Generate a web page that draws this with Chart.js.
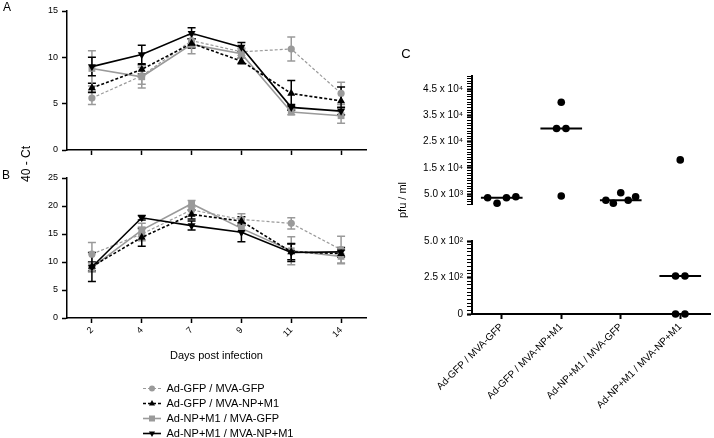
<!DOCTYPE html>
<html><head><meta charset="utf-8">
<script src="https://cdn.jsdelivr.net/npm/chart.js@4.4.1/dist/chart.umd.min.js"></script>
<style>
html,body{margin:0;padding:0;background:#fff;width:714px;height:438px;overflow:hidden}
#wrap{position:relative;width:714px;height:438px}
canvas{position:absolute;left:0;top:0}
</style></head><body><div id="wrap">
<canvas id="cA" width="714" height="438"></canvas>
<canvas id="cB" width="714" height="438"></canvas>
<canvas id="cCtop" width="714" height="438"></canvas>
<canvas id="cCbot" width="714" height="438"></canvas>
<canvas id="cLeg" width="230" height="80" style="left:139px;top:379px"></canvas>
</div>
<script>
// ---------------- data ----------------
const days = ['2','4','7','9','11','14'];
const groupNames = ['Ad-GFP / MVA-GFP','Ad-GFP / MVA-NP+M1','Ad-NP+M1 / MVA-GFP','Ad-NP+M1 / MVA-NP+M1'];

// Panel A: 40 - Ct (means and error)
const a_gfp_gfp     = [5.6, 8.0, 11.8, 10.6, 10.9, 6.1];
const a_gfp_npm1    = [6.7, 8.7, 11.5, 9.6, 6.1, 5.3];
const a_npm1_gfp    = [8.8, 7.9, 11.4, 10.4, 4.1, 3.7];
const a_npm1_npm1   = [9.0, 10.3, 12.6, 11.1, 4.6, 4.2];
const a_gfp_gfp_err   = [0.7, 0.9, 0.6, 0.4, 1.3, 1.2];
const a_gfp_npm1_err  = [0.5, 0.5, 0.5, 0.3, 1.4, 1.5];
const a_npm1_gfp_err  = [1.9, 1.2, 1.0, 0.5, 0.3, 0.8];
const a_npm1_npm1_err = [1.0, 1.0, 0.6, 0.5, 0.3, 0.4];

// Panel B: 40 - Ct (means and error)
const b_gfp_gfp     = [11.4, 15.0, 19.3, 17.6, 16.9, 12.2];
const b_gfp_npm1    = [9.2, 14.4, 18.5, 17.3, 11.8, 11.5];
const b_npm1_gfp    = [9.0, 15.7, 20.4, 16.0, 12.0, 11.0];
const b_npm1_npm1   = [9.1, 17.9, 16.5, 15.3, 11.7, 11.8];
const b_gfp_gfp_err   = [2.1, 1.2, 0.8, 1.0, 1.0, 2.4];
const b_gfp_npm1_err  = [0.8, 1.6, 0.8, 0.8, 1.4, 0.6];
const b_npm1_gfp_err  = [0.8, 1.2, 0.6, 0.6, 2.5, 1.3];
const b_npm1_npm1_err = [2.6, 0.4, 0.8, 1.7, 1.6, 0.8];

// Panel C: pfu / ml per animal
const titer_gfp_gfp   = [3590, 1460, 3590, 3970];
const titer_gfp_npm1  = [40000, 30000, 30000, 4240];
const titer_npm1_gfp  = [2600, 1460, 5500, 2600, 3970];
const titer_npm1_npm1 = [18000, 260, 260, 0, 0];

// tick values
const yTicksA = [0, 5, 10, 15];
const yTicksB = [0, 5, 10, 15, 20, 25];
const cTopRange = [1000, 50000];
const cTopMajor = [5000, 15000, 25000, 35000, 45000];
const cBotRange = [0, 500];
const cBotMajor = [0, 250, 500];

// ---------------- styles ----------------
const FONT = "'Liberation Sans', Arial, Helvetica, sans-serif";
Chart.defaults.font.family = FONT;
Chart.defaults.color = '#000';
const GRAY = '#9a9a9a';
const styles = [
  {color: GRAY,   dash: [3, 2], width: 1.2, point: 'circle',   radius: 3.6, rot: 0,   order: 4},
  {color: '#000', dash: [3, 2], width: 1.6, point: 'triangle', radius: 4.6, rot: 0,   order: 2},
  {color: GRAY,   dash: [],     width: 1.6, point: 'rect',     radius: 4.8, rot: 0,   order: 3},
  {color: '#000', dash: [],     width: 1.6, point: 'triangle', radius: 4.6, rot: 180, order: 1}
];

const seriesA = [a_gfp_gfp, a_gfp_npm1, a_npm1_gfp, a_npm1_npm1];
const errA = [a_gfp_gfp_err, a_gfp_npm1_err, a_npm1_gfp_err, a_npm1_npm1_err];
const seriesB = [b_gfp_gfp, b_gfp_npm1, b_npm1_gfp, b_npm1_npm1];
const errB = [b_gfp_gfp_err, b_gfp_npm1_err, b_npm1_gfp_err, b_npm1_npm1_err];
const titers = [titer_gfp_gfp, titer_gfp_npm1, titer_npm1_gfp, titer_npm1_npm1];

// ---------------- plugins ----------------
const errorBars = {
  id: 'errorBars',
  beforeDatasetsDraw(chart) {
    const ctx = chart.ctx, ys = chart.scales.y;
    chart.data.datasets.forEach((ds, i) => {
      const meta = chart.getDatasetMeta(i);
      const errs = chart.options.plugins.errorBars.errors[i];
      ctx.save();
      ctx.strokeStyle = ds.borderColor; ctx.lineWidth = 1.5; ctx.setLineDash([]);
      meta.data.forEach((pt, j) => {
        const v = ds.data[j], e = errs[j];
        const yt = ys.getPixelForValue(v + e), yb = ys.getPixelForValue(v - e);
        ctx.beginPath();
        ctx.moveTo(pt.x, yt); ctx.lineTo(pt.x, yb);
        ctx.moveTo(pt.x - 4, yt); ctx.lineTo(pt.x + 4, yt);
        ctx.moveTo(pt.x - 4, yb); ctx.lineTo(pt.x + 4, yb);
        ctx.stroke();
      });
      ctx.restore();
    });
  }
};

const labelsPlugin = {
  id: 'panelTexts',
  afterDraw(chart) {
    const items = chart.options.plugins.panelTexts.items || [];
    const ctx = chart.ctx;
    items.forEach(t => {
      ctx.save();
      ctx.font = t.size + 'px ' + FONT;
      ctx.fillStyle = '#000';
      ctx.textAlign = 'center'; ctx.textBaseline = 'middle';
      ctx.translate(t.x, t.y); ctx.rotate(t.rot || 0);
      ctx.fillText(t.text, 0, 0);
      ctx.restore();
    });
  }
};

function lineDatasets(series) {
  return series.map((d, i) => ({
    label: groupNames[i], data: d,
    borderColor: styles[i].color, backgroundColor: styles[i].color,
    borderWidth: styles[i].width, borderDash: styles[i].dash,
    pointStyle: styles[i].point, pointRadius: styles[i].radius, pointRotation: styles[i].rot,
    pointBorderWidth: 0, pointBackgroundColor: styles[i].color,
    tension: 0, clip: false, order: styles[i].order
  }));
}

function yAxis(ticksArr, w) {
  return {
    min: ticksArr[0], max: ticksArr[ticksArr.length - 1], position: 'left',
    ticks: {stepSize: ticksArr[1] - ticksArr[0], font: {size: 9}, color: '#000', padding: 4},
    grid: {drawOnChartArea: false, drawTicks: true, tickLength: 5, tickWidth: 1.5, tickColor: '#000'},
    border: {display: true, color: '#000', width: 1.5},
    afterFit(s) { s.width = w; }
  };
}

// ---------------- Panel A ----------------
new Chart(document.getElementById('cA'), {
  type: 'line',
  data: {labels: days, datasets: lineDatasets(seriesA)},
  options: {
    responsive: false, animation: false, events: [],
    layout: {padding: {left: 27, top: 11, right: 348, bottom: 278}},
    scales: {
      x: {
        offset: true,
        ticks: {color: 'rgba(0,0,0,0)', font: {size: 9}},
        grid: {offset: false, drawOnChartArea: false, tickLength: 5, tickWidth: 1.5, tickColor: '#000'},
        border: {display: true, color: '#000', width: 1.5},
        afterFit(s) { s.height = 10; }
      },
      y: yAxis(yTicksA, 40)
    },
    plugins: {
      legend: {display: false}, tooltip: {enabled: false},
      errorBars: {errors: errA},
      panelTexts: {items: [
        {text: 'A', x: 7, y: 8, size: 12},
        {text: 'B', x: 6, y: 176, size: 12},
        {text: 'C', x: 406, y: 54, size: 13},
        {text: '40 - Ct', x: 27, y: 164, size: 12, rot: -Math.PI / 2},
        {text: 'pfu / ml', x: 403, y: 200, size: 11, rot: -Math.PI / 2}
      ]}
    }
  },
  plugins: [errorBars, labelsPlugin]
});

// ---------------- Panel B ----------------
new Chart(document.getElementById('cB'), {
  type: 'line',
  data: {labels: days, datasets: lineDatasets(seriesB)},
  options: {
    responsive: false, animation: false, events: [],
    layout: {padding: {left: 27, top: 178, right: 348, bottom: 75}},
    scales: {
      x: {
        offset: true,
        ticks: {color: '#000', font: {size: 9}, minRotation: 45, maxRotation: 45, padding: 2, autoSkip: false},
        grid: {offset: false, drawOnChartArea: false, tickLength: 5, tickWidth: 1.5, tickColor: '#000'},
        border: {display: true, color: '#000', width: 1.5},
        title: {display: true, text: 'Days post infection', font: {size: 11}, color: '#000', padding: 0},
        afterFit(s) { s.height = 45; }
      },
      y: yAxis(yTicksB, 40)
    },
    plugins: {
      legend: {display: false}, tooltip: {enabled: false},
      errorBars: {errors: errB},
      panelTexts: {items: []}
    }
  },
  plugins: [errorBars, labelsPlugin]
});

// ---------------- Panel C ----------------
const SUP = ['⁰','¹','²','³','⁴','⁵','⁶','⁷','⁸','⁹'];
function fmtSci(v) {
  if (v === 0) return '0';
  const e = Math.floor(Math.log10(v));
  return (v / Math.pow(10, e)).toFixed(1) + ' x 10' + SUP[e];
}
const JIT_STEP = 0.158, JIT_MAX = 0.25, MED_HALF = 0.35;
function swarmOffsets(values) {
  const tol = v => v > cBotRange[1] ? 3000 : 40;
  const idx = values.map((v, i) => i).sort((a, b) => values[a] - values[b]);
  const clusters = []; let cur = [idx[0]];
  for (let k = 1; k < idx.length; k++) {
    const a = values[idx[k - 1]], b = values[idx[k]];
    const same = (a > cBotRange[1]) === (b > cBotRange[1]) && (b - a) <= tol(b);
    if (same) cur.push(idx[k]); else { clusters.push(cur); cur = [idx[k]]; }
  }
  clusters.push(cur);
  const off = new Array(values.length).fill(0);
  clusters.forEach(c => {
    c.sort((a, b) => a - b);
    const n = c.length;
    const s = n > 1 ? Math.min(JIT_STEP, JIT_MAX * 2 / (n - 1)) : 0;
    c.forEach((i, k) => { off[i] = (k - (n - 1) / 2) * s; });
  });
  return off;
}
function median(arr) {
  const s = [...arr].sort((a, b) => a - b), n = s.length;
  return n % 2 ? s[(n - 1) / 2] : (s[n / 2 - 1] + s[n / 2]) / 2;
}
function cDatasets(inSegment) {
  const pts = [], meds = [];
  titers.forEach((vals, g) => {
    const off = swarmOffsets(vals);
    vals.forEach((v, i) => { if (inSegment(v)) pts.push({x: g + off[i], y: v}); });
    const m = median(vals);
    if (inSegment(m)) meds.push({
      data: [{x: g - MED_HALF, y: m}, {x: g + MED_HALF, y: m}],
      showLine: true, borderColor: '#000', borderWidth: 2, pointRadius: 0, clip: false
    });
  });
  return [{data: pts, pointRadius: 3.8, pointBackgroundColor: '#000', pointBorderWidth: 0, backgroundColor: '#000', clip: false}, ...meds];
}
function cYAxis(range, step, major, w) {
  return {
    min: range[0], max: range[1], position: 'left',
    ticks: {stepSize: step, maxTicksLimit: 200, autoSkip: false, font: {size: 10}, color: '#000', padding: 4,
      callback: v => major.includes(v) ? fmtSci(v) : ''},
    grid: {drawOnChartArea: false, tickLength: 5, tickColor: '#000',
      tickWidth: c => (c.tick && major.includes(c.tick.value)) ? 2.2 : 1},
    border: {display: true, color: '#000', width: 2},
    afterFit(s) { s.width = w; }
  };
}
const cX = (display) => ({
  type: 'linear', min: -0.5, max: groupNames.length - 0.5, display,
  afterBuildTicks(s) { s.ticks = groupNames.map((n, i) => ({value: i})); },
  ticks: {autoSkip: false, minRotation: 45, maxRotation: 45, font: {size: 10}, color: '#000', padding: 2,
    callback: v => groupNames[Math.round(v)]},
  grid: {drawOnChartArea: false, tickLength: 5, tickWidth: 2, tickColor: '#000'},
  border: {display: true, color: '#000', width: 2},
  afterFit(s) { s.height = display ? 100 : 0; }
});

new Chart(document.getElementById('cCtop'), {
  type: 'scatter',
  data: {datasets: cDatasets(v => v > cBotRange[1])},
  options: {
    responsive: false, animation: false, events: [],
    layout: {padding: {left: 412, top: 76, right: 1, bottom: 233.5}},
    scales: {x: cX(false), y: cYAxis(cTopRange, 1000, cTopMajor, 60)},
    plugins: {legend: {display: false}, tooltip: {enabled: false}}
  }
});

new Chart(document.getElementById('cCbot'), {
  type: 'scatter',
  data: {datasets: cDatasets(v => v <= cBotRange[1])},
  options: {
    responsive: false, animation: false, events: [],
    layout: {padding: {left: 412, top: 241, right: 1, bottom: 24}},
    scales: {x: cX(true), y: cYAxis(cBotRange, 25, cBotMajor, 60)},
    plugins: {legend: {display: false}, tooltip: {enabled: false}}
  }
});

// ---------------- Legend ----------------
function legendIcon(st) {
  const c = document.createElement('canvas'); c.width = 18; c.height = 9;
  const g = c.getContext('2d');
  g.strokeStyle = st.color; g.lineWidth = st.width; g.setLineDash(st.dash);
  g.beginPath(); g.moveTo(0, 4.5); g.lineTo(18, 4.5); g.stroke();
  g.setLineDash([]); g.fillStyle = st.color;
  const cx = 9, cy = 4.5, r = 3.4;
  g.beginPath();
  if (st.point === 'circle') g.arc(cx, cy, 3, 0, Math.PI * 2);
  else if (st.point === 'rect') g.rect(cx - 3, cy - 3, 6, 6);
  else {
    const s = st.rot ? -1 : 1;
    g.moveTo(cx, cy - s * r); g.lineTo(cx + r * 0.9, cy + s * r * 0.6); g.lineTo(cx - r * 0.9, cy + s * r * 0.6); g.closePath();
  }
  g.fill();
  return c;
}
const icons = styles.map(legendIcon);
new Chart(document.getElementById('cLeg'), {
  type: 'line',
  data: {labels: [], datasets: groupNames.map((n, i) => ({label: n, data: []}))},
  options: {
    responsive: false, animation: false, events: [],
    layout: {padding: 0},
    scales: {x: {display: false}, y: {display: false}},
    plugins: {
      tooltip: {enabled: false},
      legend: {display: true, position: 'top', align: 'start', maxHeight: 80,
        labels: {usePointStyle: true, pointStyleWidth: 18, padding: 4, font: {size: 11}, color: '#000',
          generateLabels: ch => ch.data.datasets.map((ds, i) => ({
            text: ds.label, pointStyle: icons[i], fillStyle: styles[i].color, strokeStyle: styles[i].color,
            lineWidth: 0, hidden: false, datasetIndex: i, fontColor: '#000'
          }))
        }
      }
    }
  }
});
</script></body></html>
